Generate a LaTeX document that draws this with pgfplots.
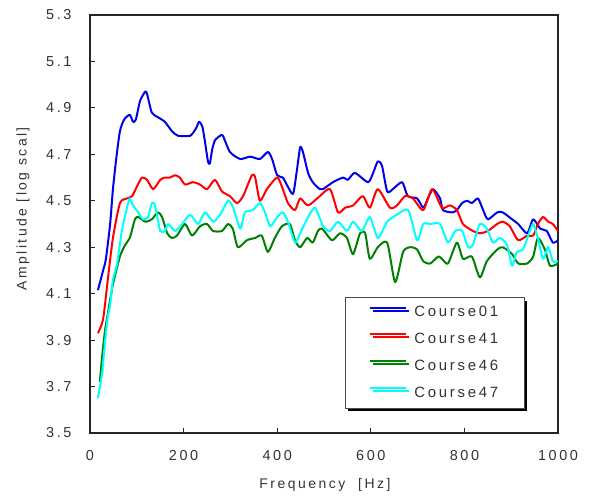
\documentclass[border=0pt]{standalone}
\usepackage{fontspec}
\usepackage{pgfplots}
\pgfplotsset{compat=1.18}
\usetikzlibrary{shadows}
\setmainfont{Liberation Sans}
\newfontfamily\gfont[LetterSpace=18]{Liberation Sans}

\definecolor{cblue}{RGB}{0,0,235}
\definecolor{cred}{RGB}{255,0,0}
\definecolor{cgreen}{RGB}{0,128,0}
\definecolor{ccyan}{RGB}{0,255,255}

\begin{document}
\begin{tikzpicture}
\path[use as bounding box] (-90bp,-63bp) rectangle (501bp,433bp);
\begin{axis}[
    at={(0,0)}, anchor=south west,
    scale only axis,
    width=468bp, height=418bp,
    xmin=0, xmax=1000,
    ymin=3.5, ymax=5.3,
    xtick={0,200,400,600,800,1000},
    ytick={3.5,3.7,3.9,4.1,4.3,4.5,4.7,4.9,5.1,5.3},
    yticklabel style={/pgf/number format/fixed, /pgf/number format/fixed zerofill,
        /pgf/number format/precision=1, xshift=-15bp},
    xticklabel style={/pgf/number format/set thousands separator={}, yshift=-14bp},
    /pgf/number format/assume math mode=true,
    tick align=inside,
    xtick pos=bottom, ytick pos=left,
    major tick length=5bp,
    axis line style={line width=1.1bp, black!85},
    every tick/.style={line width=1bp, black!85},
    ticklabel style={font=\gfont\fontsize{14.5}{16}\selectfont, text=black!80},
    xlabel={Frequency\ \ [Hz]},
    ylabel={Amplitude [log scal]},
    label style={font=\gfont\fontsize{14}{16}\selectfont, text=black!80},
    xlabel style={at={(axis description cs:0.502,-0.125)}, anchor=center},
    ylabel style={at={(axis description cs:-0.143,0.536)}, anchor=center},
    legend style={at={(axis description cs:0.545,0.325)}, anchor=north west,
        draw=black!70, line width=0.8bp, fill=white,
        drop shadow={shadow xshift=3bp, shadow yshift=-3bp, fill=black, opacity=1},
        font=\gfont\fontsize{15}{17}\selectfont, text=black!80,
        row sep=11bp, inner xsep=24bp, inner ysep=7bp,
        /tikz/every odd column/.append style={column sep=5bp}},
    legend cell align=left,
    legend image code/.code={\draw[#1, line width=2bp] (0bp,5bp) -- (36bp,5bp);},
    every axis plot/.append style={line width=2bp, line join=round, smooth, tension=0.4},
]
\addplot[cblue] coordinates {
(17,4.115)(28,4.20)(34,4.25)(43,4.40)(49,4.55)(56,4.68)(64,4.80)(73,4.85)(85,4.87)(92,4.84)
(98,4.85)(107,4.93)(118,4.97)(122,4.96)(132,4.88)(145,4.86)(160,4.84)(175,4.80)(188,4.78)(214,4.78)
(226,4.81)(233,4.84)(240,4.82)(246,4.75)(252,4.67)(256,4.66)(261,4.72)(267,4.76)(278,4.78)(284,4.78)
(299,4.71)(321,4.68)(342,4.69)(363,4.68)(380,4.71)(389,4.68)(400,4.61)(412,4.60)(423,4.56)(434,4.53)
(442,4.63)(449,4.73)(455,4.71)(466,4.62)(476,4.58)(491,4.55)(498,4.55)(519,4.58)(541,4.60)(551,4.59)
(566,4.62)(594,4.58)(605,4.62)(615,4.67)(624,4.65)(635,4.54)(647,4.55)(667,4.58)(679,4.52)(699,4.51)
(712,4.47)(722,4.51)(733,4.55)(748,4.51)(754,4.46)(774,4.45)(784,4.46)(795,4.49)(806,4.50)(816,4.49)
(829,4.51)(840,4.46)(850,4.42)(870,4.45)(882,4.45)(902,4.42)(915,4.40)(934,4.36)(947,4.42)(962,4.38)
(976,4.37)(989,4.32)(1000,4.33)
};
\addplot[cred] coordinates {
(17,3.93)(28,3.99)(38,4.16)(49,4.34)(64,4.49)(79,4.51)(90,4.52)(100,4.56)(111,4.60)(122,4.59)
(135,4.55)(150,4.59)(160,4.60)(171,4.60)(182,4.61)(192,4.60)(203,4.57)(220,4.58)(235,4.57)(250,4.55)
(267,4.59)(282,4.54)(299,4.52)(314,4.49)(327,4.52)(346,4.61)(353,4.60)(363,4.50)(378,4.55)(400,4.60)
(412,4.55)(423,4.49)(438,4.46)(449,4.51)(466,4.48)(491,4.52)(513,4.55)(530,4.45)(545,4.47)(562,4.48)
(583,4.52)(598,4.47)(615,4.55)(641,4.47)(656,4.48)(673,4.52)(690,4.51)(712,4.46)(731,4.55)(752,4.47)
(769,4.48)(784,4.46)(797,4.40)(818,4.37)(833,4.36)(850,4.37)(870,4.40)(882,4.41)(897,4.39)(915,4.33)
(934,4.35)(947,4.35)(957,4.40)(968,4.43)(979,4.41)(989,4.40)(1000,4.37)
};
\addplot[cgreen] coordinates {
(21,3.72)(26,3.83)(32,3.94)(36,3.99)(49,4.14)(64,4.26)(75,4.31)(85,4.34)(96,4.42)(103,4.43)
(118,4.41)(132,4.42)(145,4.45)(154,4.43)(165,4.36)(175,4.34)(186,4.35)(203,4.40)(218,4.35)(235,4.39)
(250,4.40)(263,4.37)(282,4.37)(295,4.40)(305,4.38)(316,4.30)(335,4.33)(353,4.34)(367,4.35)(380,4.28)
(395,4.34)(410,4.39)(427,4.40)(438,4.33)(449,4.30)(464,4.34)(476,4.32)(487,4.37)(496,4.38)(517,4.33)
(534,4.36)(549,4.34)(562,4.27)(577,4.36)(588,4.36)(598,4.25)(615,4.30)(635,4.32)(652,4.15)(669,4.28)
(684,4.30)(699,4.29)(712,4.24)(727,4.23)(744,4.26)(752,4.25)(765,4.23)(784,4.32)(797,4.25)(816,4.26)
(833,4.17)(848,4.24)(870,4.29)(882,4.30)(902,4.27)(915,4.23)(934,4.23)(947,4.26)(957,4.34)(972,4.29)
(983,4.22)(1000,4.23)
};
\addplot[ccyan] coordinates {
(17,3.65)(26,3.76)(32,3.89)(38,4.00)(43,4.05)(49,4.16)(58,4.23)(68,4.37)(79,4.47)(85,4.51)
(92,4.48)(103,4.45)(113,4.42)(124,4.43)(132,4.49)(139,4.48)(150,4.37)(160,4.37)(167,4.40)(182,4.37)
(197,4.40)(214,4.44)(231,4.40)(246,4.45)(263,4.41)(278,4.44)(295,4.50)(306,4.47)(321,4.38)(331,4.45)
(348,4.46)(363,4.49)(374,4.45)(385,4.39)(400,4.43)(412,4.45)(423,4.41)(438,4.32)(449,4.36)(466,4.43)
(481,4.47)(498,4.39)(513,4.37)(530,4.41)(549,4.37)(562,4.41)(581,4.37)(598,4.43)(615,4.34)(635,4.41)
(656,4.44)(680,4.46)(699,4.33)(712,4.40)(727,4.40)(748,4.40)(765,4.32)(780,4.37)(795,4.37)(808,4.30)
(818,4.31)(833,4.40)(848,4.38)(861,4.32)(876,4.34)(891,4.31)(902,4.22)(912,4.28)(925,4.29)(940,4.37)
(947,4.40)(957,4.34)(968,4.25)(979,4.30)(989,4.24)(1000,4.24)
};
\legend{Course01, Course41, Course46, Course47}
\end{axis}
\end{tikzpicture}
\end{document}
